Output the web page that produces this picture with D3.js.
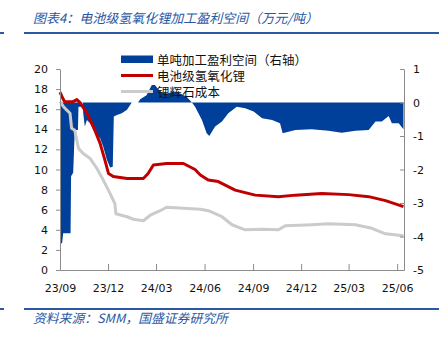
<!DOCTYPE html>
<html><head><meta charset="utf-8">
<script src="https://cdn.jsdelivr.net/npm/d3@7"></script>
<style>html,body{margin:0;padding:0;background:#fff;}svg{display:block;}</style>
</head><body>
<svg id="c" width="445" height="337"></svg>
<script>
// ---- data ----
const titleText = "图表4：电池级氢氧化锂加工盈利空间（万元/吨）";
const sourceText = "资料来源：SMM，国盛证券研究所";
const seriesNames = ["单吨加工盈利空间（右轴）", "电池级氢氧化锂", "锂辉石成本"];

const xTickDates = ["2023-09-01","2023-12-01","2024-03-01","2024-06-01","2024-09-01","2024-12-01","2025-03-01","2025-06-01"];
const xTickLabels = ["23/09","23/12","24/03","24/06","24/09","24/12","25/03","25/06"];
const leftTicks = [0,2,4,6,8,10,12,14,16,18,20];
const rightTicks = [-5,-4,-3,-2,-1,0,1];

// battery-grade lithium hydroxide (left axis)
const lihDates = ["2023-09-01","2023-09-07","2023-09-10","2023-09-26","2023-10-03","2023-10-09","2023-10-22","2023-11-03","2023-11-16","2023-11-25","2023-12-02","2023-12-11","2024-01-06","2024-02-06","2024-02-15","2024-02-25","2024-03-21","2024-04-22","2024-05-14","2024-05-24","2024-06-08","2024-06-27","2024-07-29","2024-09-05","2024-10-19","2024-11-20","2025-01-09","2025-03-01","2025-04-08","2025-05-10","2025-06-13"];
const lihValues = [17.7,17.0,16.75,16.75,16.95,16.65,15.6,14.3,12.6,10.95,9.6,9.3,9.1,9.1,9.6,10.45,10.6,10.6,10.0,9.45,8.95,8.8,7.95,7.45,7.3,7.45,7.6,7.5,7.3,6.9,6.3];

// spodumene cost (left axis)
const spoDates = ["2023-09-01","2023-09-07","2023-09-14","2023-09-20","2023-09-23","2023-09-29","2023-10-06","2023-10-15","2023-10-28","2023-11-10","2023-11-22","2023-12-05","2023-12-14","2023-12-16","2024-01-06","2024-01-18","2024-02-06","2024-02-19","2024-03-09","2024-03-21","2024-04-22","2024-05-24","2024-06-08","2024-07-04","2024-07-23","2024-08-17","2024-09-18","2024-10-19","2024-11-01","2024-12-21","2025-01-22","2025-03-14","2025-04-14","2025-05-10","2025-06-13"];
const spoValues = [16.75,16.3,15.9,15.6,14.1,13.9,12.1,11.6,11.1,10.1,8.95,7.6,6.6,5.6,5.3,5.05,4.9,5.45,5.9,6.25,6.15,6.05,5.9,5.3,4.5,4.0,4.05,4.0,4.4,4.5,4.6,4.5,4.15,3.6,3.4];

// processing profit per ton (right axis)
const profDates = ["2023-09-01","2023-09-05","2023-09-07","2023-09-21","2023-09-22","2023-09-26","2023-09-29","2023-10-05","2023-10-06","2023-10-11","2023-10-12","2023-10-14","2023-10-15","2023-10-18","2023-10-22","2023-10-28","2023-11-03","2023-11-10","2023-11-16","2023-11-22","2023-11-29","2023-12-05","2023-12-10","2023-12-12","2023-12-18","2023-12-27","2024-01-06","2024-01-15","2024-01-27","2024-01-31","2024-02-12","2024-02-22","2024-02-28","2024-03-09","2024-03-21","2024-04-03","2024-04-16","2024-04-28","2024-05-08","2024-05-14","2024-05-27","2024-06-05","2024-06-10","2024-06-21","2024-07-04","2024-07-16","2024-08-01","2024-08-17","2024-09-02","2024-09-18","2024-10-07","2024-10-22","2024-10-27","2024-11-20","2024-12-21","2025-01-22","2025-02-16","2025-03-14","2025-04-08","2025-04-21","2025-05-03","2025-05-16","2025-05-22","2025-06-04","2025-06-13"];
const profValues = [-4.2,-4.2,-3.9,-3.9,-2.2,-2.1,-0.82,-0.82,-0.13,-0.13,0,0,-0.32,-0.72,-0.52,-0.62,-0.82,-0.97,-1.07,-1.32,-1.72,-1.94,-1.92,-0.42,-0.37,-0.32,-0.22,0,0,0.1,0.22,0.52,0.52,0.32,0.27,0.32,0.27,0.17,0,-0.13,-0.52,-0.92,-1.0,-0.72,-0.57,-0.32,-0.13,-0.17,-0.27,-0.47,-0.52,-0.62,-0.92,-0.82,-0.8,-0.84,-0.9,-0.84,-0.82,-0.57,-0.57,-0.4,-0.62,-0.62,-0.8];

const xStart = "2023-09-01", xEnd = "2025-06-14";

// ---- drawing ----
const parse = d3.timeParse("%Y-%m-%d");
const svg = d3.select("#c");
const BLUE = "#2b57a3", FILL = "#00409a", RED = "#c00000", GRAY = "#cbcbcb", AXIS = "#8c8c8c";
const numFont = "'DejaVu Sans', Verdana, sans-serif";
const cjkFont = "'Noto Sans CJK SC', sans-serif";

const x = d3.scaleTime().domain([parse(xStart), parse(xEnd)]).range([60, 404]);
const yL = d3.scaleLinear().domain([0, 20]).range([270, 69]);
const yR = d3.scaleLinear().domain([-5, 1]).range([270, 69]);

// title + rules
svg.append("text").attr("x", 33).attr("y", 23).text(titleText)
  .attr("font-family", cjkFont).attr("font-size", 13).attr("font-style", "italic").attr("fill", BLUE);
[[0,4],[24,439]].forEach(([a,b]) => {
  svg.append("line").attr("x1", a).attr("x2", b).attr("y1", 33).attr("y2", 33).attr("stroke", BLUE).attr("stroke-width", 2);
  svg.append("line").attr("x1", a).attr("x2", b).attr("y1", 309).attr("y2", 309).attr("stroke", BLUE).attr("stroke-width", 2);
});
svg.append("text").attr("x", 33).attr("y", 323).text(sourceText)
  .attr("font-family", cjkFont).attr("font-size", 12.8).attr("font-style", "italic").attr("fill", BLUE);

// area (right axis)
const prof = profDates.map((d, i) => ({ d: parse(d), v: profValues[i] }));
svg.append("path").datum(prof)
  .attr("d", d3.area().x(p => x(p.d)).y0(yR(0)).y1(p => yR(p.v)))
  .attr("fill", FILL);

// lines
const spo = spoDates.map((d, i) => ({ d: parse(d), v: spoValues[i] }));
const lih = lihDates.map((d, i) => ({ d: parse(d), v: lihValues[i] }));
const line = d3.line().x(p => x(p.d)).y(p => yL(p.v));
svg.append("path").datum(spo).attr("d", line).attr("fill", "none").attr("stroke", GRAY).attr("stroke-width", 3).attr("stroke-linejoin", "round");
svg.append("path").datum(lih).attr("d", line).attr("fill", "none").attr("stroke", RED).attr("stroke-width", 3).attr("stroke-linejoin", "round");

// axes
function styleAxis(g) {
  g.select(".domain").attr("stroke", AXIS).attr("stroke-width", 1);
  g.selectAll(".tick line").attr("stroke", AXIS);
  g.selectAll(".tick text").attr("fill", "#111").attr("font-family", numFont).attr("font-size", 11);
}
const gx = svg.append("g").attr("transform", "translate(0,270)")
  .call(d3.axisBottom(x).tickValues(xTickDates.map(parse))
    .tickFormat((d, i) => xTickLabels[i]).tickSizeInner(-6).tickSizeOuter(0).tickPadding(14));
styleAxis(gx);
const gl = svg.append("g").attr("transform", "translate(60,0)")
  .call(d3.axisLeft(yL).tickValues(leftTicks).tickFormat(d => String(d)).tickSizeInner(4).tickSizeOuter(0).tickPadding(8));
styleAxis(gl);
const gr = svg.append("g").attr("transform", "translate(404,0)")
  .call(d3.axisRight(yR).tickValues(rightTicks).tickFormat(d => String(d)).tickSizeInner(-4).tickSizeOuter(0).tickPadding(9));
styleAxis(gr);

// legend
const lg = svg.append("g");
lg.append("rect").attr("x", 121).attr("y", 55.5).attr("width", 32).attr("height", 7.5).attr("fill", FILL);
lg.append("line").attr("x1", 121).attr("x2", 153).attr("y1", 75.5).attr("y2", 75.5).attr("stroke", RED).attr("stroke-width", 3);
lg.append("line").attr("x1", 121).attr("x2", 153).attr("y1", 91.5).attr("y2", 91.5).attr("stroke", GRAY).attr("stroke-width", 3);
[59.5, 75.5, 91.5].forEach((yy, i) => {
  lg.append("text").attr("x", 157).attr("y", yy).attr("dominant-baseline", "central")
    .text(seriesNames[i]).attr("font-family", cjkFont).attr("font-size", 12.5)
    .attr("textLength", [150, 88, 63][i]).attr("lengthAdjust", "spacing").attr("fill", "#111");
});
</script>
</body></html>
